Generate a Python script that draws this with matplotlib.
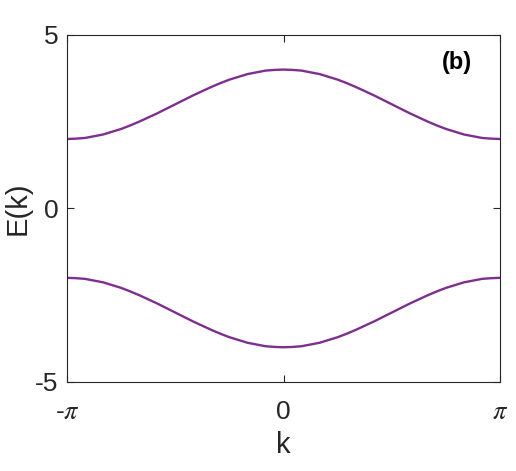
import numpy as np
import matplotlib.pyplot as plt

plt.rcParams['font.family'] = ['Liberation Sans', 'DejaVu Sans']
plt.rcParams['mathtext.fontset'] = 'stix'
plt.rcParams['axes.unicode_minus'] = False

# k in units of pi/24, from -pi to pi
k_steps = np.arange(-24, 25)
# upper band E(k) (lower band is its mirror)
E_upper = [2.00, 2.01, 2.03, 2.08, 2.13, 2.21, 2.29, 2.39, 2.50, 2.62, 2.74, 2.87,
           3.00, 3.13, 3.26, 3.38, 3.50, 3.61, 3.71, 3.79, 3.87, 3.92, 3.97, 3.99,
           4.00,
           3.99, 3.97, 3.92, 3.87, 3.79, 3.71, 3.61, 3.50, 3.38, 3.26, 3.13, 3.00,
           2.87, 2.74, 2.62, 2.50, 2.39, 2.29, 2.21, 2.13, 2.08, 2.03, 2.01, 2.00]
E_lower = [-v for v in E_upper]

xtick_labels = ['-$\\pi$', '0', '$\\pi$']
ytick_vals = [-5, 0, 5]

k = k_steps * np.pi / 24

fig = plt.figure(figsize=(5.16, 4.71), dpi=100)
ax = fig.add_axes([0.130, 0.189, 0.839, 0.737])

color = '#7E2F8E'
ax.plot(k, E_upper, color=color, lw=1.7)
ax.plot(k, E_lower, color=color, lw=1.7)

ax.set_xlim(-np.pi, np.pi)
ax.set_ylim(-5, 5)
ax.set_xticks([-np.pi, 0, np.pi])
ax.set_xticklabels(xtick_labels)
ax.set_yticks(ytick_vals)

ax.tick_params(direction='in', top=True, right=True, length=5, width=0.8,
               labelsize=19, color='#262626', labelcolor='#262626')
ax.tick_params(axis='x', pad=26.5)
ax.tick_params(axis='y', pad=6)
for lbl in ax.get_xticklabels():
    lbl.set_va('baseline')
for s in ax.spines.values():
    s.set_linewidth(0.8)
    s.set_color('#262626')

ax.set_xlabel('k', fontsize=21, color='#262626', labelpad=5)
ax.set_ylabel('E(k)', fontsize=21, color='#262626', labelpad=3)
ax.text(0.90, 0.92, '(b)', transform=ax.transAxes, fontsize=17,
        fontweight='bold', ha='center', va='center')

fig.savefig('out.png', dpi=100)
